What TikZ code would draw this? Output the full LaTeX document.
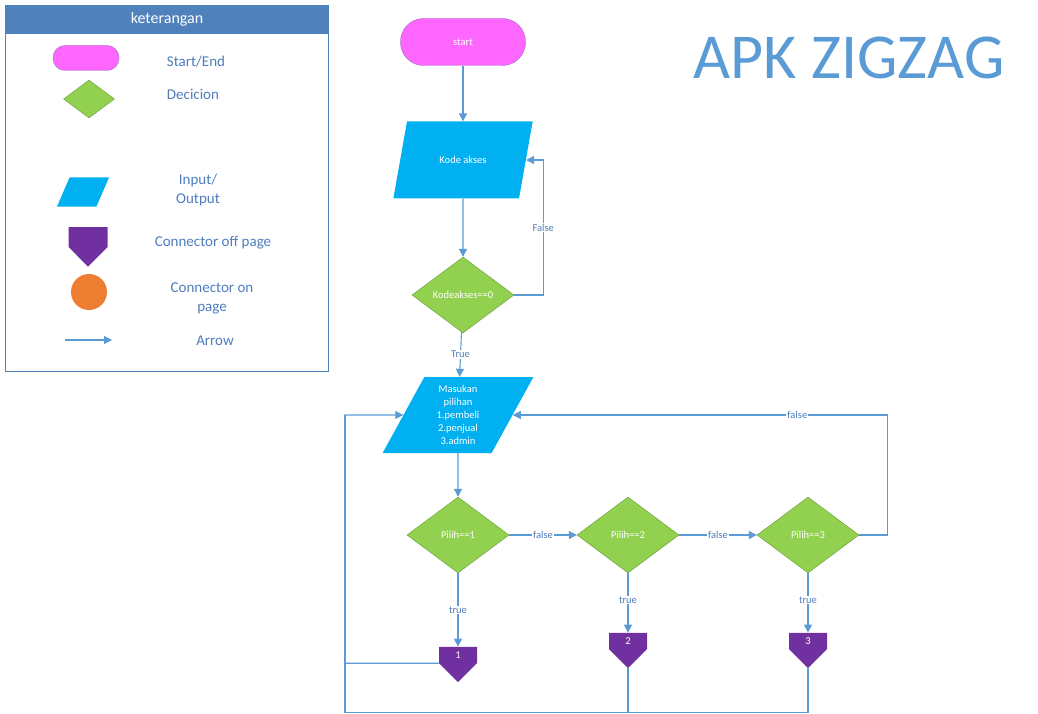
\documentclass[tikz,border=0pt]{standalone}
\usepackage{fontspec}
\setmainfont{Carlito}
\usepackage{tikz}
\usetikzlibrary{shapes.geometric,shapes.symbols,arrows.meta}
\definecolor{garisbiru}{HTML}{5B9BD5}
\definecolor{teksbiru}{HTML}{4F7DBE}
\definecolor{kepala}{HTML}{4F81BD}
\definecolor{magenta}{HTML}{FF66FF}
\definecolor{ungu}{HTML}{7030A0}
\definecolor{hijau}{HTML}{92D050}
\definecolor{hijaugaris}{HTML}{6A9A3A}
\definecolor{biru}{HTML}{00B0F0}
\definecolor{oranye}{HTML}{ED7D31}

\begin{document}
\begin{tikzpicture}[x=1pt, y=-1pt, font=\fontsize{10.5}{12.9}\selectfont,
    term/.style = {draw=ungu!70, fill=magenta, rounded corners=23pt, text=white},
    dec/.style = {draw=hijaugaris, fill=hijau, diamond, aspect=1.34, inner sep=0pt, text=white},
    io/.style = {fill=biru, trapezium, trapezium left angle=65, trapezium right angle=115, trapezium stretches=true, text=white, align=center},
    off/.style = {fill=ungu, signal, signal to=south, signal pointer angle=90, minimum width=38pt, minimum height=19pt, inner sep=0pt, text=white},
    arr/.style = {draw=garisbiru, line width=1.1pt, -{Triangle[length=8pt,width=8pt]}},
    garis/.style = {draw=garisbiru, line width=1.1pt},
    lbl/.style = {text=teksbiru, fill=white, inner sep=1pt},
    ket/.style = {text=teksbiru, font=\fontsize{15}{19}\selectfont, align=center}]
    \useasboundingbox (0,0) rectangle (1038,714);

    % keterangan
    \draw[draw=kepala, fill=white, line width=0.8pt] (5,5) rectangle (328,371);
    \fill[kepala] (5,5) rectangle (328,34);
    \node[text=white, font=\fontsize{16}{19}\selectfont] (judulket) at (167,19) {keterangan};
    \node[term, minimum width=66pt, minimum height=25pt, rounded corners=12pt] (lterm) at (86,58) {};
    \node[dec, minimum width=51pt, minimum height=38pt] (ldec) at (89,99) {};
    \node[io, minimum width=52pt, minimum height=29pt] (lio) at (83,192) {};
    \node[off, minimum width=39pt, minimum height=20pt] (loff) at (88,237) {};
    \node[circle, fill=oranye, minimum size=36pt] (lon) at (89,292) {};
    \coordinate (la1) at (65,340);
    \coordinate (la2) at (112,340);
    \draw[arr] (la1) -- (la2);
    \node[ket] (tterm) at (196,62) {Start/End};
    \node[ket] (tdec) at (193,94) {Decicion};
    \node[ket] (tio) at (198,190) {Input/\\Output};
    \node[ket] (toff) at (213,243) {Connector off page};
    \node[ket] (ton) at (212,298) {Connector on\\page};
    \node[ket] (tarr) at (215,341) {Arrow};

    % judul
    \node[text=garisbiru, font=\fontsize{64}{70}\selectfont] (judul) at (849,58) {APK ZIGZAG};

    % alur
    \node[term, minimum width=125pt, minimum height=47pt] (start) at (463,42) {start};
    \node[io, minimum width=140pt, minimum height=77pt] (kode) at (463,160) {Kode akses};
    \node[dec, minimum width=102pt, minimum height=76pt] (cek) at (463,295) {Kodeakses==0};
    \node[io, minimum width=151pt, minimum height=76pt] (pilih) at (458,415) {Masukan\\pilihan\\1.pembeli\\2.penjual\\3.admin};
    \node[dec, minimum width=102pt, minimum height=76pt] (p1) at (458,535) {Pilih==1};
    \node[dec, minimum width=102pt, minimum height=76pt] (p2) at (628,535) {Pilih==2};
    \node[dec, minimum width=102pt, minimum height=76pt] (p3) at (808,535) {Pilih==3};
    \node[off] (c1) at (458,655) {1};
    \node[off] (c2) at (628,641) {2};
    \node[off] (c3) at (808,641) {3};
    \coordinate (kiri) at (345,415);

    \draw[arr] (start) -- (kode);
    \draw[arr] (kode) -- (cek);
    \draw[arr] (cek.east) -- ++(29,0) |- node[lbl, pos=0.25] {False} (kode.east);
    \draw[arr] (cek) -- node[lbl] {True} (pilih);
    \draw[arr] (pilih) -- (p1);
    \draw[arr] (p1) -- node[lbl] {false} (p2);
    \draw[arr] (p2) -- node[lbl] {false} (p3);
    \draw[arr] (p3.east) -- ++(28,0) |- node[lbl, pos=0.62] {false} (pilih.east);
    \draw[arr] (p1) -- node[lbl, pos=0.5] {true} (c1);
    \draw[arr] (p2) -- node[lbl, pos=0.45] {true} (c2);
    \draw[arr] (p3) -- node[lbl, pos=0.45] {true} (c3);
    \draw[arr] (c1.south west) -| (kiri) -- (pilih.west);
    \draw[garis] (c3.south) -- ++(0,44) -| (kiri);
    \draw[garis] (c2.south) -- ++(0,44);
\end{tikzpicture}
\end{document}
